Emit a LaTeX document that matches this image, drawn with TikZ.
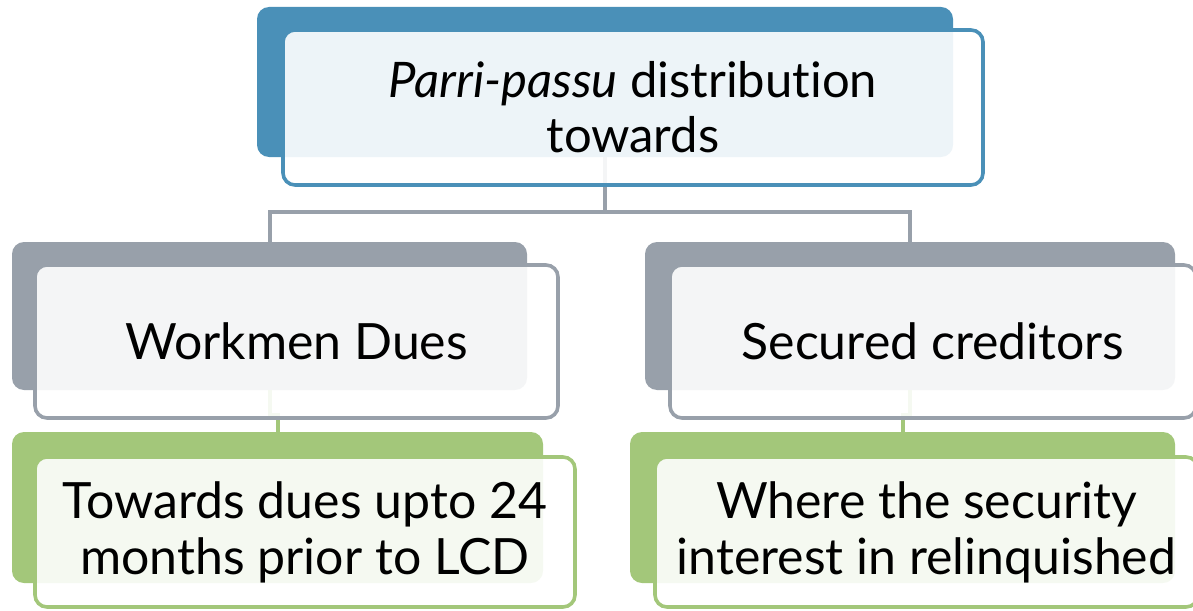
\documentclass[tikz,border=0pt]{standalone}
\usepackage{fontspec}
\setmainfont[RawFeature=-liga]{Lato}
\begin{document}
\begin{tikzpicture}[x=0.5pt,y=-0.5pt,
  back/.style={draw=none, rounded corners=6pt, inner sep=0pt},
  front/.style={rounded corners=6pt, line width=1.8pt, fill=white, fill opacity=0.9,
    text opacity=1, inner sep=0pt, align=center, font=\fontsize{25}{28}\selectfont},
  conn/.style={line width=2pt, draw=linegray},
  gconn/.style={line width=2pt, draw=leafgreen}]
\definecolor{headblue}{HTML}{4A90B8}
\definecolor{linegray}{HTML}{98A0AA}
\definecolor{leafgreen}{HTML}{A3C77A}
\useasboundingbox (0,0) rectangle (1193,610);
\clip (0,0) rectangle (1193,610);

% connector bus between the top box and the two middle boxes
\coordinate (bus) at (605,212);

% back plates
\node[back, fill=headblue, minimum width=348pt, minimum height=75pt] (tback) at (605,82) {};
\node[back, fill=linegray, minimum width=257.5pt, minimum height=74pt] (lback) at (269.5,316) {};
\node[back, fill=linegray, minimum width=265pt, minimum height=74pt] (rback) at (910,316) {};
\node[back, fill=leafgreen, minimum width=265.5pt, minimum height=75.5pt] (lgback) at (277.5,507.5) {};
\node[back, fill=leafgreen, minimum width=272.5pt, minimum height=75.5pt] (rgback) at (902.5,507.5) {};

% connectors
\draw[conn] (tback.south) -- (bus);
\draw[conn] (lback.north) |- (bus) -| (rback.north);
\draw[gconn] (lback.south) -- ++(0,25) -| (lgback.north);
\draw[gconn] (rback.south) -- ++(0,25) -| (rgback.north);

% front boxes with text
\node[front, draw=headblue, minimum width=350pt, minimum height=77.5pt,
  font=\fontsize{24.5}{27.5}\selectfont] (top) at (633,107.5)
  {{\itshape Parri-passu} distribution\\towards};
\node[front, draw=linegray, minimum width=261.5pt, minimum height=76.5pt] (wd) at (296.5,341.5)
  {Workmen Dues};
\node[front, draw=linegray, minimum width=263pt, minimum height=76.5pt] (sc) at (933,341.5)
  {Secured creditors};
\node[front, draw=leafgreen, minimum width=270pt, minimum height=75pt] (wdn) at (305,532)
  {Towards dues upto 24\\months prior to LCD};
\node[front, draw=leafgreen, minimum width=271.5pt, minimum height=75pt] (scn) at (926.5,532)
  {Where the security\\interest in relinquished};
\end{tikzpicture}
\end{document}
